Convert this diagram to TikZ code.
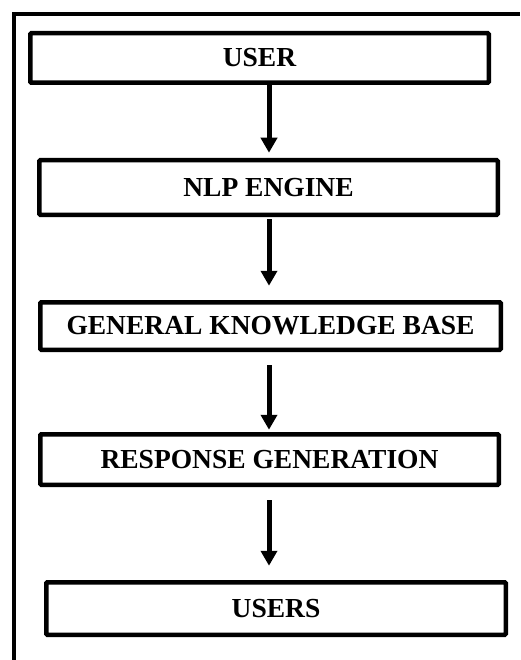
\documentclass[tikz,border=0pt]{standalone}
\usepackage{fontspec}
\setmainfont{Liberation Serif}
\usetikzlibrary{arrows.meta,calc}
\begin{document}
\begin{tikzpicture}[x=1pt,y=-1pt,
  box/.style={draw=black, line width=4.5pt, fill=white, rounded corners=1pt,
    inner sep=0pt, font=\fontsize{27.5}{30}\selectfont\bfseries},
  arr/.style={line width=5pt, -{Triangle[width=16pt,length=15pt]}},
  frame/.style={line width=4pt}]
\useasboundingbox (0,0) rectangle (520,660);
\draw[frame] (14,660) -- (14,14) -- (520,14);
\node[box, minimum width=458.5pt, minimum height=49.5pt] (b1) at (259.5,58) {USER};
\node[box, minimum width=458.5pt, minimum height=54.5pt] (b2) at (268.5,187.5) {NLP ENGINE};
\node[box, minimum width=460.5pt, minimum height=47.5pt] (b3) at (270.5,326) {GENERAL KNOWLEDGE BASE};
\node[box, minimum width=458.5pt, minimum height=50.5pt] (b4) at (269.5,459.5) {RESPONSE GENERATION};
\node[box, minimum width=459.5pt, minimum height=52.5pt] (b5) at (276,608.5) {USERS};
\coordinate (ax) at (269,0);
\draw[arr, shorten >=5.25pt] (b1.south -| ax) -- (b2.north -| ax);
\draw[arr, shorten <=2.25pt, shorten >=14.25pt] (b2.south -| ax) -- (b3.north -| ax);
\draw[arr, shorten <=13.25pt, shorten >=2.25pt] (b3.south -| ax) -- (b4.north -| ax);
\draw[arr, shorten <=13.25pt, shorten >=14.25pt] (b4.south -| ax) -- (b5.north -| ax);
\end{tikzpicture}
\end{document}
